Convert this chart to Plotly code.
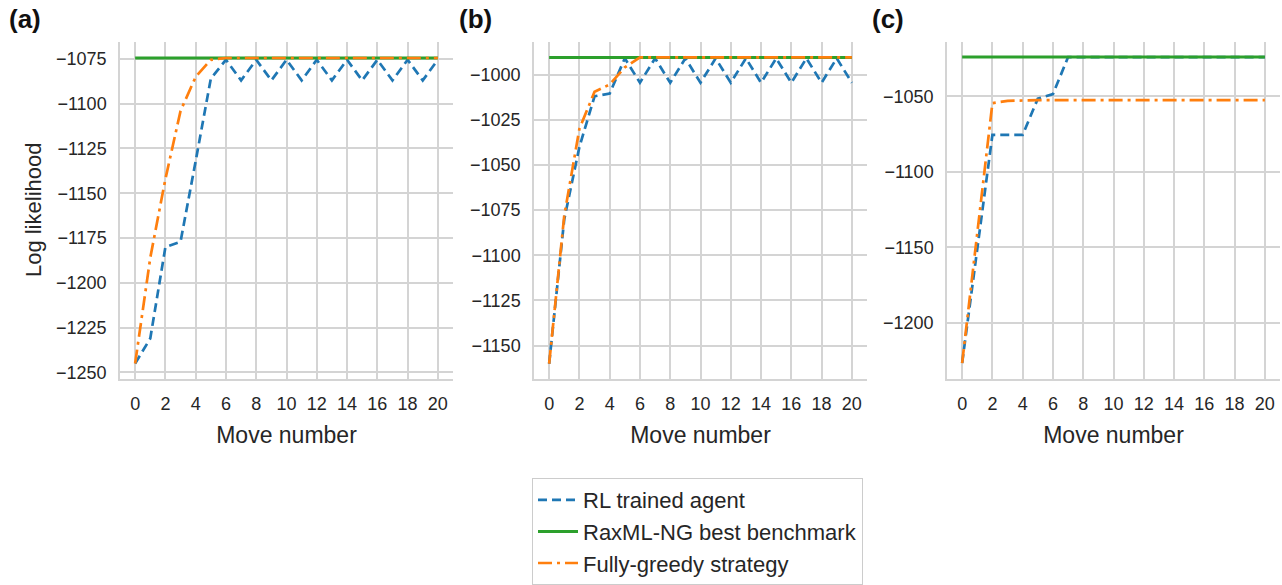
import plotly.graph_objects as go

moves = list(range(21))

# Panel (a)
a_rl = [-1245, -1231, -1180, -1177, -1132, -1086, -1075.5, -1087, -1075.5, -1087, -1075.5,
        -1087, -1075.5, -1087, -1075.5, -1087, -1075.5, -1087, -1075.5, -1087, -1075.5]
a_raxml = [-1074.5, -1074.5, -1074.5, -1074.5, -1074.5, -1074.5, -1074.5, -1074.5, -1074.5, -1074.5, -1074.5,
           -1074.5, -1074.5, -1074.5, -1074.5, -1074.5, -1074.5, -1074.5, -1074.5, -1074.5, -1074.5]
a_greedy = [-1245, -1186, -1142, -1104, -1085, -1075.5, -1074.5, -1074.5, -1074.5, -1074.5, -1074.5,
            -1074.5, -1074.5, -1074.5, -1074.5, -1074.5, -1074.5, -1074.5, -1074.5, -1074.5, -1074.5]

# Panel (b)
b_rl = [-1160, -1080, -1040, -1012, -1010.5, -991, -1004.5, -991, -1004.5, -991, -1004.5,
        -991, -1004.5, -991, -1004.5, -991, -1004.5, -991, -1004.5, -991, -1004.5]
b_raxml = [-990.5, -990.5, -990.5, -990.5, -990.5, -990.5, -990.5, -990.5, -990.5, -990.5, -990.5,
           -990.5, -990.5, -990.5, -990.5, -990.5, -990.5, -990.5, -990.5, -990.5, -990.5]
b_greedy = [-1160, -1078, -1030, -1009.5, -1005.5, -996, -990.5, -990.5, -990.5, -990.5, -990.5,
            -990.5, -990.5, -990.5, -990.5, -990.5, -990.5, -990.5, -990.5, -990.5, -990.5]

# Panel (c)
c_rl = [-1226.5, -1150, -1075.5, -1075.5, -1075.5, -1051.5, -1048.5, -1024, -1024, -1024, -1024,
        -1024, -1024, -1024, -1024, -1024, -1024, -1024, -1024, -1024, -1024]
c_raxml = [-1024, -1024, -1024, -1024, -1024, -1024, -1024, -1024, -1024, -1024, -1024,
           -1024, -1024, -1024, -1024, -1024, -1024, -1024, -1024, -1024, -1024]
c_greedy = [-1226.5, -1140, -1054.5, -1053, -1052.5, -1052.5, -1052.5, -1052.5, -1052.5, -1052.5, -1052.5,
            -1052.5, -1052.5, -1052.5, -1052.5, -1052.5, -1052.5, -1052.5, -1052.5, -1052.5, -1052.5]

panels = [
    ("(a)", a_rl, a_raxml, a_greedy, [-1253.5, -1065.8], 25),
    ("(b)", b_rl, b_raxml, b_greedy, [-1168.3, -982.2], 25),
    ("(c)", c_rl, c_raxml, c_greedy, [-1236.9, -1014.3], 50),
]

series_names = ["RL trained agent", "RaxML-NG best benchmark", "Fully-greedy strategy"]
BLUE, GREEN, ORANGE = "#1f77b4", "#2ca02c", "#ff7f0e"

W, H = 1282, 585
x_px = [(120, 453), (534, 867), (947, 1280)]
y_top, y_bot = 43, 384
FONT = "Liberation Sans, Arial, sans-serif"
GRID = "#d4d4d4"
TXT = "#262626"

fig = go.Figure()
layout = dict(
    width=W, height=H,
    margin=dict(l=0, r=0, t=0, b=0),
    paper_bgcolor="white", plot_bgcolor="white",
    font=dict(family=FONT, color=TXT),
    showlegend=True,
    legend=dict(
        x=532 / W, y=1 - 485 / H, xanchor="left", yanchor="top",
        bgcolor="white", bordercolor="#cccccc", borderwidth=1,
        font=dict(size=22, family=FONT, color=TXT),
        itemwidth=40, tracegroupgap=0,
    ),
)
annotations = []

for i, (label, rl, rax, gr, yr, dt) in enumerate(panels):
    n = "" if i == 0 else str(i + 1)
    xa, ya = "x" + n, "y" + n
    first = i == 0
    fig.add_trace(go.Scatter(x=moves, y=rl, mode="lines", name=series_names[0],
                             line=dict(color=BLUE, width=2.7, dash="9px,5px"),
                             xaxis=xa, yaxis=ya, showlegend=first))
    fig.add_trace(go.Scatter(x=moves, y=rax, mode="lines", name=series_names[1],
                             line=dict(color=GREEN, width=3),
                             xaxis=xa, yaxis=ya, showlegend=first))
    fig.add_trace(go.Scatter(x=moves, y=gr, mode="lines", name=series_names[2],
                             line=dict(color=ORANGE, width=2.7, dash="14px,5px,3px,5px"),
                             xaxis=xa, yaxis=ya, showlegend=first))
    x0, x1 = x_px[i]
    layout["xaxis" + n] = dict(
        domain=[x0 / W, x1 / W], anchor=ya, range=[-1, 21],
        tick0=0, dtick=2, showgrid=True, gridcolor=GRID, gridwidth=1.5,
        showline=True, linecolor=GRID, linewidth=1.5, zeroline=False,
        ticks="", ticklabelstandoff=8,
        tickfont=dict(size=18, color=TXT, family=FONT),
        title=dict(text="Move number", font=dict(size=23, color=TXT, family=FONT), standoff=14),
        automargin=False,
    )
    layout["yaxis" + n] = dict(
        domain=[1 - y_bot / H, 1 - y_top / H], anchor=xa, range=yr,
        tick0=-1000, dtick=dt, showgrid=True, gridcolor=GRID, gridwidth=1.5,
        showline=True, linecolor=GRID, linewidth=1.5, zeroline=False,
        ticks="", ticklabelstandoff=8,
        tickfont=dict(size=18, color=TXT, family=FONT),
        automargin=False,
    )
    annotations.append(dict(
        text="<b>" + label + "</b>", xref="paper", yref="paper",
        x=(x0 - 113) / W if i == 0 else (x0 - 77) / W, y=1 - 19 / H,
        xanchor="left", yanchor="middle", showarrow=False,
        font=dict(size=26, color="#111111", family=FONT),
    ))

annotations.append(dict(
    text="Log likelihood", xref="paper", yref="paper",
    x=33 / W, y=1 - 213 / H, textangle=-90, xanchor="center", yanchor="middle",
    showarrow=False, font=dict(size=22, color=TXT, family=FONT),
))
layout["annotations"] = annotations
fig.update_layout(**layout)
fig.write_html("out.html", config={"displayModeBar": False},
               post_script="document.body.style.margin='0';")
